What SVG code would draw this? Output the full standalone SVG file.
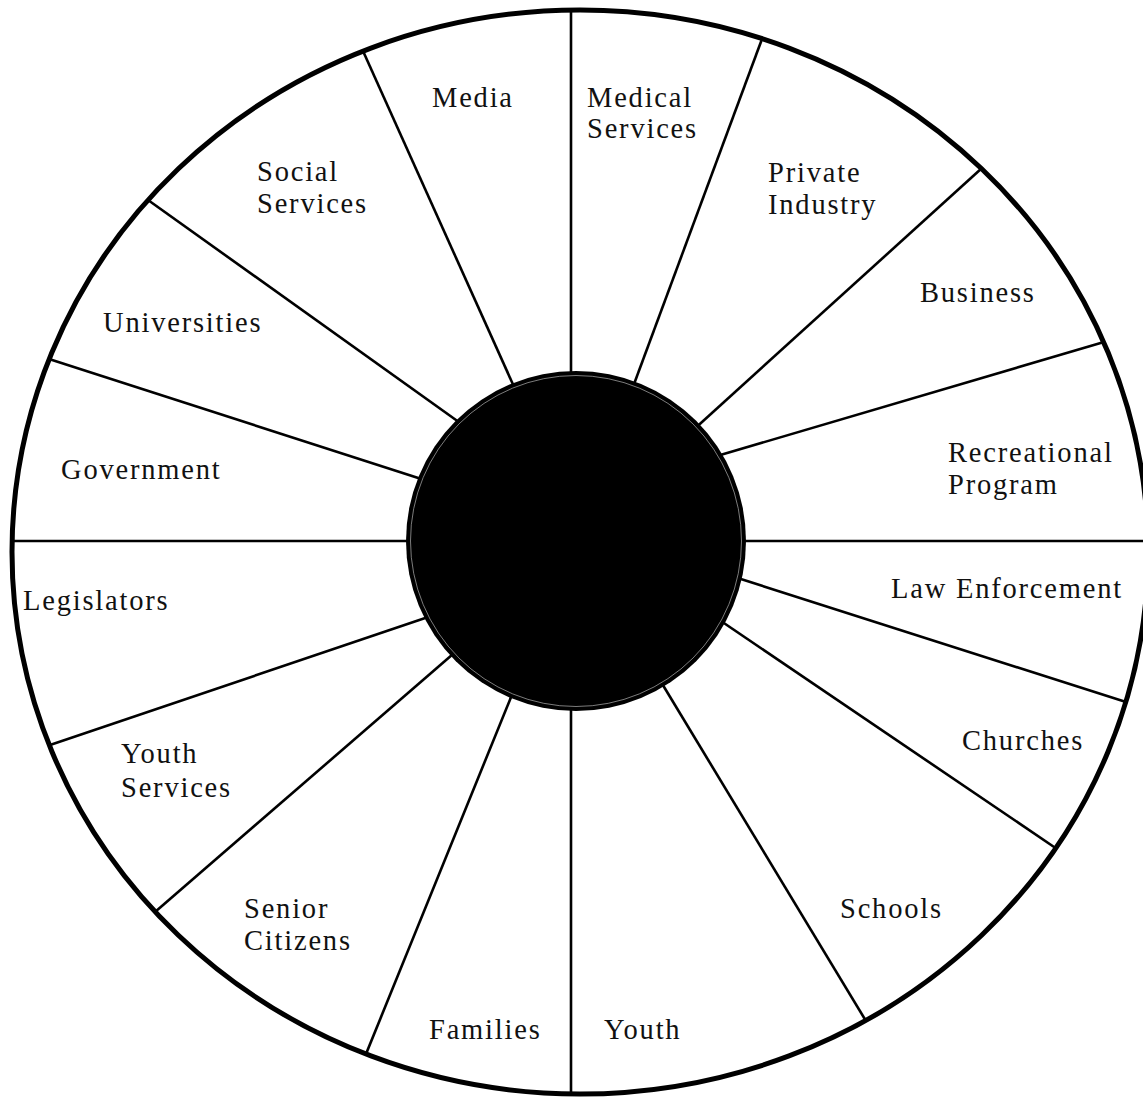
<svg xmlns="http://www.w3.org/2000/svg" width="1143" height="1097" viewBox="0 0 1143 1097">
<style>
.spoke{stroke:#000;stroke-width:2.6;fill:none;stroke-linecap:butt}
.lbl{font-family:"Liberation Serif","Times New Roman",serif;font-size:28.5px;letter-spacing:1.8px;fill:#111}
</style>
<rect width="1143" height="1097" fill="#fff"/>
<g id="connectors">
<line class="spoke" x1="571" y1="10" x2="571" y2="400"/>
<line class="spoke" x1="627" y1="403" x2="762" y2="39"/>
<line class="spoke" x1="680" y1="442" x2="982" y2="168"/>
<line class="spoke" x1="700" y1="461" x2="1104" y2="342"/>
<line class="spoke" x1="720" y1="541" x2="1150" y2="541"/>
<line class="spoke" x1="700" y1="566" x2="1126" y2="702"/>
<line class="spoke" x1="690" y1="600" x2="1057" y2="849"/>
<line class="spoke" x1="655" y1="672" x2="866" y2="1021"/>
<line class="spoke" x1="571" y1="690" x2="571" y2="1094"/>
<line class="spoke" x1="520" y1="675" x2="366" y2="1054"/>
<line class="spoke" x1="475" y1="635" x2="155" y2="912"/>
<line class="spoke" x1="440" y1="613" x2="50" y2="745"/>
<line class="spoke" x1="12" y1="541" x2="440" y2="541"/>
<line class="spoke" x1="440" y1="485" x2="49" y2="359"/>
<line class="spoke" x1="470" y1="430" x2="148" y2="200"/>
<line class="spoke" x1="520" y1="400" x2="363" y2="51"/>
</g>
<ellipse id="outer-ring" cx="580" cy="552" rx="568" ry="542" fill="none" stroke="#000" stroke-width="5"/>
<g id="hub">
<circle cx="576" cy="541" r="170" fill="#000"/>
<circle cx="576" cy="541" r="165.5" fill="none" stroke="#9a9a9a" stroke-width="0.8"/>
</g>
<g id="n-media"><text class="lbl" x="432" y="107">Media</text></g>
<g id="n-medical"><text class="lbl" x="587" y="107">Medical</text><text class="lbl" x="587" y="138">Services</text></g>
<g id="n-private"><text class="lbl" x="768" y="182">Private</text><text class="lbl" x="768" y="214">Industry</text></g>
<g id="n-business"><text class="lbl" x="920" y="302">Business</text></g>
<g id="n-recreational"><text class="lbl" x="948" y="462">Recreational</text><text class="lbl" x="948" y="494">Program</text></g>
<g id="n-law"><text class="lbl" x="891" y="598">Law Enforcement</text></g>
<g id="n-churches"><text class="lbl" x="962" y="750">Churches</text></g>
<g id="n-schools"><text class="lbl" x="840" y="918">Schools</text></g>
<g id="n-youth"><text class="lbl" x="604" y="1039">Youth</text></g>
<g id="n-families"><text class="lbl" x="429" y="1039">Families</text></g>
<g id="n-senior"><text class="lbl" x="244" y="918">Senior</text><text class="lbl" x="244" y="950">Citizens</text></g>
<g id="n-youth-services"><text class="lbl" x="121" y="763">Youth</text><text class="lbl" x="121" y="797">Services</text></g>
<g id="n-legislators"><text class="lbl" x="23" y="610">Legislators</text></g>
<g id="n-government"><text class="lbl" x="61" y="479">Government</text></g>
<g id="n-universities"><text class="lbl" x="103" y="332">Universities</text></g>
<g id="n-social"><text class="lbl" x="257" y="181">Social</text><text class="lbl" x="257" y="213">Services</text></g>
</svg>
